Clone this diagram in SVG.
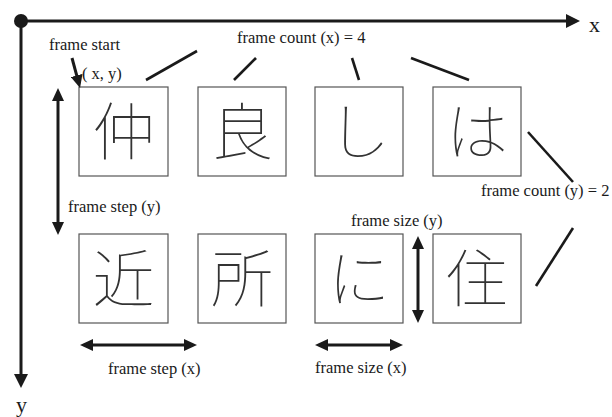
<svg xmlns="http://www.w3.org/2000/svg" width="612" height="417" viewBox="0 0 612 417">
  <style>
    .lbl { font-family: "Liberation Serif", "Times New Roman", serif; font-size: 16.5px; fill: #1a1a1a; }
    .axl { font-family: "Liberation Serif", "Times New Roman", serif; font-size: 22px; fill: #1a1a1a; }
    .frame { fill: #fff; stroke: #555; stroke-width: 1.2; }
    .glyph { font-family: "Noto Sans CJK JP Thin", "Noto Sans CJK JP Light", "Noto Sans CJK JP", "Noto Sans CJK SC", sans-serif; font-weight: 100; font-size: 62px; fill: #333; text-anchor: middle; }
    .arr { stroke: #1a1a1a; stroke-width: 3; fill: none; }
    .tick { stroke: #1a1a1a; stroke-width: 2.6; fill: none; stroke-linecap: butt; }
  </style>
  <defs>
    <marker id="head" markerUnits="userSpaceOnUse" markerWidth="13" markerHeight="12" viewBox="0 0 13 12" refX="7" refY="6" orient="auto-start-reverse">
      <path d="M0,0 L13,6 L0,12 z" fill="#1a1a1a"/>
    </marker>
    <marker id="axhead" markerUnits="userSpaceOnUse" markerWidth="14" markerHeight="14" viewBox="0 0 14 14" refX="7" refY="7" orient="auto">
      <path d="M0,0 L14,7 L0,14 z" fill="#1a1a1a"/>
    </marker>
  </defs>

  <!-- coordinate axes -->
  <g id="axes">
    <line class="arr" x1="21" y1="21" x2="573" y2="21" marker-end="url(#axhead)"/>
    <line class="arr" x1="21" y1="21" x2="21" y2="381" marker-end="url(#axhead)"/>
    <circle cx="21" cy="21" r="7" fill="#1a1a1a"/>
    <text class="axl" x="589" y="32">x</text>
    <text class="axl" x="16" y="412">y</text>
  </g>

  <!-- top row of frames -->
  <g id="frame-1-1"><rect class="frame" x="79" y="87" width="89" height="89"/><text class="glyph" x="123.5" y="155">仲</text></g>
  <g id="frame-1-2"><rect class="frame" x="198" y="87" width="88" height="89"/><text class="glyph" x="242" y="155">良</text></g>
  <g id="frame-1-3"><rect class="frame" x="315" y="87" width="88" height="89"/><text class="glyph" x="359" y="155">し</text></g>
  <g id="frame-1-4"><rect class="frame" x="433" y="87" width="88" height="89"/><text class="glyph" x="477" y="155">は</text></g>

  <!-- bottom row of frames -->
  <g id="frame-2-1"><rect class="frame" x="79" y="234" width="89" height="89"/><text class="glyph" x="123.5" y="302">近</text></g>
  <g id="frame-2-2"><rect class="frame" x="198" y="234" width="88" height="89"/><text class="glyph" x="242" y="302">所</text></g>
  <g id="frame-2-3"><rect class="frame" x="315" y="234" width="88" height="89"/><text class="glyph" x="359" y="302">に</text></g>
  <g id="frame-2-4"><rect class="frame" x="433" y="234" width="88" height="89"/><text class="glyph" x="477" y="302">住</text></g>

  <!-- labels -->
  <g id="labels">
    <text class="lbl" x="49" y="50">frame start</text>
    <text class="lbl" x="82" y="79">( x, y)</text>
    <text class="lbl" x="237" y="43">frame count (x) = 4</text>
    <text class="lbl" x="68" y="212">frame step (y)</text>
    <text class="lbl" x="481" y="196">frame count (y) = 2</text>
    <text class="lbl" x="351" y="226">frame size (y)</text>
    <text class="lbl" x="108" y="374">frame step (x)</text>
    <text class="lbl" x="315" y="373">frame size (x)</text>
  </g>

  <!-- connectors -->
  <g id="connectors">
    <line class="tick" x1="146" y1="80" x2="197" y2="51"/>
    <line class="tick" x1="234" y1="80" x2="256" y2="58"/>
    <line class="tick" x1="352" y1="58" x2="359" y2="80"/>
    <line class="tick" x1="411" y1="58" x2="469" y2="80"/>
    <line class="tick" x1="528" y1="132" x2="573" y2="182"/>
    <line class="tick" x1="573" y1="228" x2="536" y2="286"/>
    <line class="arr" stroke-width="2.6" x1="72" y1="58" x2="78.5" y2="82.2" marker-end="url(#head)"/>
    <line class="arr" x1="58" y1="94" x2="58" y2="229" marker-start="url(#head)" marker-end="url(#head)"/>
    <line class="arr" x1="86" y1="345" x2="191" y2="345" marker-start="url(#head)" marker-end="url(#head)"/>
    <line class="arr" x1="321" y1="345" x2="397" y2="345" marker-start="url(#head)" marker-end="url(#head)"/>
    <line class="arr" x1="418" y1="242" x2="418" y2="317" marker-start="url(#head)" marker-end="url(#head)"/>
  </g>
</svg>
